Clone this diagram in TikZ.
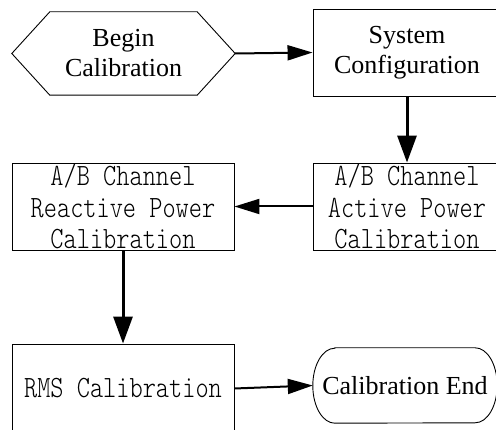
\documentclass[tikz,border=0pt]{standalone}
\usepackage{fontspec}
\setmainfont{Liberation Serif}
% narrow, tall, light monospaced face for the step labels
\newfontfamily\stepmono[FakeStretch=0.81]{Latin Modern Mono Light}
\usetikzlibrary{arrows.meta}

\tikzset{
  serif text/.style={font=\fontsize{26}{30}\selectfont, align=center},
  mono text/.style={font=\stepmono\fontsize{31}{31.5}\selectfont, align=center},
  stepbox/.style={draw, line width=0.9pt, inner sep=0pt},
  flowline/.style={line width=2pt, -{Triangle[length=25pt,width=15pt]}},
  downline/.style={line width=3pt, -{Triangle[length=27pt,width=19pt]}},
}

\begin{document}
\begin{tikzpicture}[x=1pt, y=1pt]
  \useasboundingbox (0,0) rectangle (496,429);
  \clip (0,0) rectangle (496,429);

  % start terminator (hexagon)
  \node[serif text, minimum width=223pt, minimum height=83pt, inner sep=0pt]
    (begin) at (123.5,375.5) {Begin\\Calibration};
  \draw[line width=0.9pt]
    (begin.west) -- ([xshift=38pt]begin.north west) -- ([xshift=-38pt]begin.north east)
    -- (begin.east) -- ([xshift=-38pt]begin.south east) -- ([xshift=38pt]begin.south west)
    -- cycle;

  % process steps
  \node[stepbox, serif text, minimum width=188pt, minimum height=87pt]
    (sys) at (407,376.5) {System\\Configuration};
  \node[stepbox, mono text, minimum width=188pt, minimum height=87pt]
    (active) at (407,222.5) {A/B Channel\\Active Power\\Calibration};
  \node[stepbox, mono text, minimum width=222pt, minimum height=87pt]
    (reactive) at (123,222.5) {A/B Channel\\Reactive Power\\Calibration};
  \node[stepbox, mono text, minimum width=222pt, minimum height=89pt]
    (rms) at (123,40.5) {RMS Calibration};

  % end terminator (rounded ends)
  \node[serif text, minimum width=184pt, minimum height=75pt, inner sep=0pt]
    (endn) at (405,43.5) {Calibration End};
  \draw[line width=0.9pt]
    ([xshift=22pt]endn.north west) -- ([xshift=-22pt]endn.north east)
    arc[start angle=90, end angle=-90, x radius=22pt, y radius=37.5pt]
    -- ([xshift=22pt]endn.south west)
    arc[start angle=270, end angle=90, x radius=22pt, y radius=37.5pt]
    -- cycle;

  % connectors
  \draw[flowline] (begin.east) -- (sys.west);
  \draw[downline] (sys.south) -- (active.north);
  \draw[flowline] (active.west) -- (reactive.east);
  \draw[downline] (reactive.south) -- (rms.north);
  \draw[flowline] (rms.east) -- (endn.west);
\end{tikzpicture}
\end{document}
